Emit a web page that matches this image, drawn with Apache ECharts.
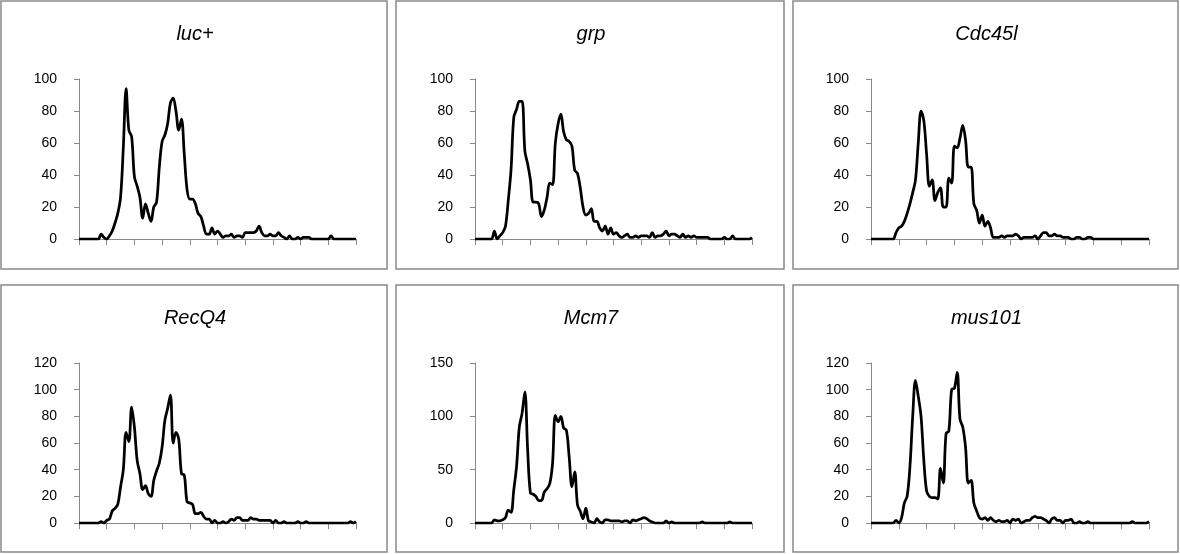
<!DOCTYPE html>
<html>
<head>
<meta charset="utf-8">
<script src="https://cdn.jsdelivr.net/npm/echarts@6/dist/echarts.min.js"></script>
<style>
html,body{margin:0;padding:0;background:#fff;}
#c{width:1180px;height:554px;}
</style>
</head>
<body>
<div id="c"></div>
<script>
// Panel titles
var titles = ['luc+', 'grp', 'Cdc45l', 'RecQ4', 'Mcm7', 'mus101'];
// Y axis scales (max, interval) per panel
var yMax = [100, 100, 100, 120, 150, 120];
var yStep = [20, 20, 20, 20, 50, 20];
// Bin categories (101 bins, ticks every 10 bins)
var bins = Array.from({length: 101}, function (_, i) { return i; });

var luc = [0,0,0,0,0,0,0,0,3,1, 0,2,5,10,16,26,57,94,68,64, 39,33,26,13,22,16,11,20,23,45, 61,65,72,85,88,80,68,75,53,31, 25,25,22,16,14,8,3,3,7,3, 5,3,1,2,2,3,1,2,2,1, 4,4,4,4,5,8,4,2,2,3, 2,2,4,2,1,0,2,0,0,1, 0,1,1,1,0,0,0,0,0,0, 0,2,0,0,0,0,0,0,0,0, 0];
var grp = [0,0,0,0,0,0,0,5,0,2, 4,8,24,43,76,81,86,86,55,47, 37,23,23,22,14,18,26,35,34,60, 72,78,67,62,61,58,43,41,32,20, 15,16,19,11,11,7,5,8,3,7, 3,4,2,1,2,3,1,1,2,1, 2,2,2,1,4,1,2,2,3,5, 2,3,3,2,1,3,1,2,1,2, 1,1,1,1,1,0,0,0,0,0, 1,0,0,2,0,0,0,0,0,0, 1];
var cdc45l = [0,0,0,0,0,0,0,0,0,4, 7,8,11,16,22,29,37,60,80,74, 53,33,37,24,29,32,20,20,38,35, 58,57,63,71,62,45,45,22,18,10, 15,8,11,7,1,1,1,2,1,2, 2,2,3,2,0,1,1,1,1,2, 0,2,4,4,2,2,3,2,2,1, 1,1,0,0,1,1,0,0,1,1, 0,0,0,0,0,0,0,0,0,0, 0,0,0,0,0,0,0,0,0,0, 0];
var recq4 = [0,0,0,0,0,0,0,0,1,0, 2,3,9,11,14,27,40,68,61,87, 72,47,37,25,28,22,20,32,39,45, 57,77,86,96,60,68,63,37,36,16, 15,14,7,7,8,5,3,3,0,2, 0,0,1,0,1,3,2,4,4,2, 2,2,4,3,3,2,2,2,2,2, 0,2,0,0,1,0,0,0,0,1, 0,0,1,0,0,0,0,0,0,0, 0,0,0,0,0,0,0,0,1,0, 1];
var mcm7 = [0,0,0,0,0,0,0,3,2,2, 3,5,12,10,31,53,90,103,123,69, 28,27,25,21,21,29,32,37,56,101, 95,100,89,87,62,34,48,17,11,4, 14,2,1,0,4,1,0,3,3,2, 2,2,2,1,2,2,0,3,2,3, 4,5,4,2,1,0,0,0,0,2, 0,1,0,0,0,0,0,0,0,0, 0,0,1,0,0,0,0,0,0,0, 0,0,1,0,0,0,0,0,0,0, 0];
var mus101 = [0,0,0,0,0,0,0,0,0,2, 0,4,15,20,42,80,107,95,80,47, 24,20,19,19,18,41,30,67,69,100, 101,113,78,72,57,30,32,15,9,4, 3,4,2,4,2,1,2,1,1,2, 0,3,2,3,0,1,2,2,4,5, 4,4,3,2,0,3,4,2,2,0, 2,2,3,0,0,1,0,0,1,0, 0,0,0,0,0,0,0,0,0,0, 0,0,0,0,1,0,0,0,0,0, 1];
var seriesData = [luc, grp, cdc45l, recq4, mcm7, mus101];

// Layout (pixels)
var panels = [
  {x:1, y:1, w:386, h:268},
  {x:396, y:1, w:388, h:268},
  {x:793, y:1, w:385, h:268},
  {x:1, y:285, w:386, h:267},
  {x:396, y:285, w:388, h:267},
  {x:793, y:285, w:385, h:267}
];
var grids = [
  {left:79, top:79, width:277, height:160},
  {left:475, top:79, width:277, height:160},
  {left:871, top:79, width:278, height:160},
  {left:79, top:363, width:277, height:160},
  {left:475, top:363, width:277, height:160},
  {left:871, top:363, width:278, height:160}
];

var FONT = 'Liberation Sans, Arial, sans-serif';
var axisGray = '#898989';
var option = {
  animation: false,
  backgroundColor: '#ffffff',
  grid: grids,
  xAxis: [], yAxis: [], series: [],
  graphic: []
};
for (var k = 0; k < 6; k++) {
  var p = panels[k];
  option.graphic.push({
    type: 'rect', silent: true, z: 0,
    shape: {x: p.x, y: p.y, width: p.w, height: p.h},
    style: {fill: 'none', stroke: axisGray, lineWidth: 1.5}
  });
  option.graphic.push({
    type: 'text', silent: true, z: 10,
    x: p.x + p.w / 2 + 1, y: p.y + 33,
    style: {text: titles[k], fill: '#000', font: 'italic 20px ' + FONT, textAlign: 'center', textVerticalAlign: 'middle'}
  });
  option.xAxis.push({
    type: 'category', gridIndex: k, data: bins, boundaryGap: false,
    axisLine: {show: true, lineStyle: {color: axisGray, width: 1}},
    axisTick: {show: true, interval: 9, length: 6, lineStyle: {color: axisGray, width: 1}},
    axisLabel: {show: false},
    splitLine: {show: false}
  });
  option.yAxis.push({
    type: 'value', gridIndex: k, min: 0, max: yMax[k], interval: yStep[k],
    axisLine: {show: true, lineStyle: {color: axisGray, width: 1}},
    axisTick: {show: true, length: 5, lineStyle: {color: axisGray, width: 1}},
    axisLabel: {show: true, color: '#000', fontSize: 14, fontFamily: FONT, margin: 22},
    splitLine: {show: false}
  });
  option.series.push({
    type: 'line', xAxisIndex: k, yAxisIndex: k, data: seriesData[k],
    smooth: 0.35, showSymbol: false, symbol: 'none',
    lineStyle: {color: '#000', width: 2.75}, z: 5
  });
}
var chart = echarts.init(document.getElementById('c'), null, {renderer: 'canvas'});
chart.setOption(option);
</script>
</body>
</html>
